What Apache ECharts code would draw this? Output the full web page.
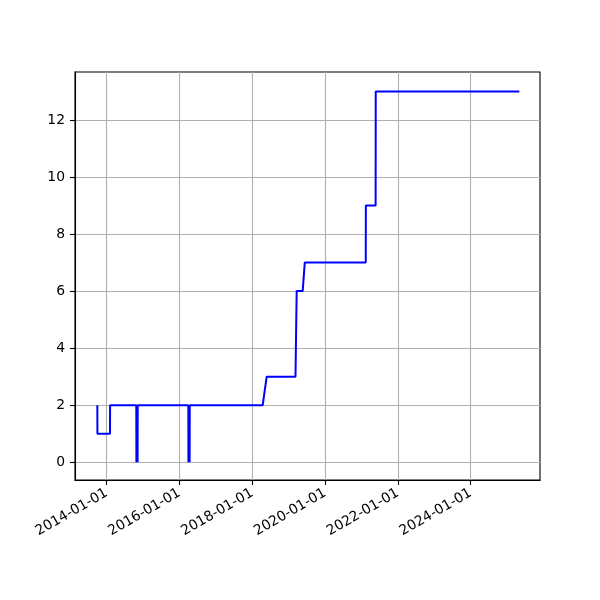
<!DOCTYPE html>
<html>
<head>
<meta charset="utf-8">
<script src="https://cdn.jsdelivr.net/npm/echarts@6/dist/echarts.min.js"></script>
<style>html,body{margin:0;padding:0;background:#fff}#c{width:600px;height:600px}</style>
</head>
<body>
<div id="c"></div>
<script>
// Data
const dates = [
  '2013-09-29','2013-09-30','2014-02-03','2014-02-04',
  '2014-10-25','2014-10-26','2014-11-01','2014-11-07','2014-11-08',
  '2016-03-30','2016-03-31','2016-04-06','2016-04-12','2016-04-13',
  '2018-04-15','2018-05-25','2019-03-10','2019-03-22','2019-05-21','2019-06-11',
  '2021-02-12','2021-02-13','2021-05-22','2021-05-23','2025-05-03'
];
const values = [
  2,1,1,2,
  2,0,2,0,2,
  2,0,2,0,2,
  2,3,3,6,6,7,
  7,9,9,13,13
];
const xTickLabels = ['2014-01-01','2016-01-01','2018-01-01','2020-01-01','2022-01-01','2024-01-01'];
const yTickValues = [0,2,4,6,8,10,12];

function toMs(s){ const p = s.split('-').map(Number); return Date.UTC(p[0], p[1]-1, p[2]); }
const DAY = 864e5;
const ref = toMs('2014-01-01');
const xMin = ref - 318*DAY;
const xMax = ref + 4347*DAY;
const seriesData = dates.map((d,i)=>[toMs(d), values[i]]);
const xTicks = xTickLabels.map(toMs);
function pad(n){ return (n<10?'0':'')+n; }
function fmt(v){ const d = new Date(v); return d.getUTCFullYear()+'-'+pad(d.getUTCMonth()+1)+'-'+pad(d.getUTCDate()); }

const font = 'DejaVu Sans';
const chart = echarts.init(document.getElementById('c'), null, {renderer:'canvas'});
chart.setOption({
  animation:false,
  backgroundColor:'#fff',
  grid:{left:75, right:60, top:72, bottom:120, show:true, borderColor:'#000', borderWidth:1.1, backgroundColor:'transparent'},
  xAxis:{
    type:'value', min:xMin, max:xMax, scale:true,
    axisLine:{show:true, onZero:false, lineStyle:{color:'#000', width:1.1}},
    axisTick:{show:true, customValues:xTicks, length:5, lineStyle:{color:'#000', width:1.1}},
    axisLabel:{customValues:xTicks, rotate:30, margin:12, fontFamily:font, fontSize:13.9, color:'#000', formatter:fmt, hideOverlap:false},
    splitLine:{show:true, lineStyle:{color:'#b0b0b0', width:1.1}}
  },
  yAxis:{
    type:'value', min:-0.62, max:13.68,
    axisLine:{show:true, onZero:false, lineStyle:{color:'#000', width:1.1}},
    axisTick:{show:true, customValues:yTickValues, length:5, lineStyle:{color:'#000', width:1.1}},
    axisLabel:{customValues:yTickValues, margin:10, fontFamily:font, fontSize:13.9, color:'#000'},
    splitLine:{show:true, lineStyle:{color:'#b0b0b0', width:1.1}}
  },
  series:[{
    type:'line', data:seriesData, showSymbol:false, symbol:'none',
    lineStyle:{color:'#0000ff', width:2}, z:5
  }]
});
</script>
</body>
</html>
